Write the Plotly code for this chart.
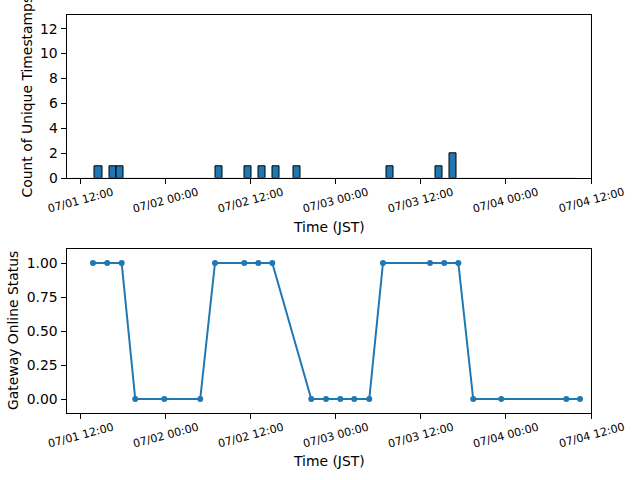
import plotly.graph_objects as go

# ---- data ----
bin_starts = ["2025-07-01 14:01", "2025-07-01 16:02", "2025-07-01 17:05",
              "2025-07-02 06:59", "2025-07-02 11:05", "2025-07-02 13:04",
              "2025-07-02 15:02", "2025-07-02 18:00", "2025-07-03 07:05",
              "2025-07-03 14:02", "2025-07-03 16:00"]
bin_counts = [1, 1, 1, 1, 1, 1, 1, 1, 1, 1, 2]
hist_span = ["2025-07-01 10:55", "2025-07-04 10:00"]

status_times = ["2025-07-01 13:44", "2025-07-01 15:45", "2025-07-01 17:47",
                "2025-07-01 19:42", "2025-07-01 23:48", "2025-07-02 04:52",
                "2025-07-02 06:57", "2025-07-02 11:05", "2025-07-02 13:04",
                "2025-07-02 15:02", "2025-07-02 20:32", "2025-07-02 22:37",
                "2025-07-03 00:38", "2025-07-03 02:36", "2025-07-03 04:43",
                "2025-07-03 06:39", "2025-07-03 13:17", "2025-07-03 15:18",
                "2025-07-03 17:17", "2025-07-03 19:23", "2025-07-03 23:20",
                "2025-07-04 08:31", "2025-07-04 10:27"]
status_values = [1, 1, 1, 0, 0, 0, 1, 1, 1, 1, 0, 0, 0, 0, 0, 1, 1, 1, 1, 0, 0, 0, 0]

tick_times = ["2025-07-01 12:00", "2025-07-02 00:00", "2025-07-02 12:00",
              "2025-07-03 00:00", "2025-07-03 12:00", "2025-07-04 00:00",
              "2025-07-04 12:00"]
tick_labels = ["07/01 12:00", "07/02 00:00", "07/02 12:00", "07/03 00:00",
               "07/03 12:00", "07/04 00:00", "07/04 12:00"]
x_range = ["2025-07-01 10:00", "2025-07-04 12:00"]

BLUE = "#1f77b4"
FONT = "DejaVu Sans"
W, H = 640, 480

def py(p):
    return (H - p) / H

fig = go.Figure()

# baseline of empty histogram bins
fig.add_trace(go.Scatter(x=hist_span, y=[0, 0], mode="lines",
                         line=dict(color="#b0b0b0", width=1.2),
                         xaxis="x", yaxis="y", showlegend=False, hoverinfo="skip"))
fig.add_trace(go.Bar(x=bin_starts, y=bin_counts, width=[3600000] * len(bin_starts),
                     offset=0, marker=dict(color=BLUE, line=dict(color="black", width=1)),
                     xaxis="x", yaxis="y", showlegend=False))
fig.add_trace(go.Scatter(x=status_times, y=status_values, mode="lines+markers",
                         line=dict(color=BLUE, width=2),
                         marker=dict(color=BLUE, size=6),
                         xaxis="x2", yaxis="y2", showlegend=False))

xdom = [66.5 / W, 591 / W]
common_x = dict(range=x_range, type="date", showgrid=False, zeroline=False,
                showline=True, mirror=True, linecolor="black", linewidth=1,
                ticks="outside", ticklen=5, tickwidth=1, tickcolor="black",
                tickvals=tick_times, showticklabels=False, domain=xdom,
                automargin=False)
common_y = dict(showgrid=False, zeroline=False, showline=True, mirror=True,
                linecolor="black", linewidth=1, ticks="outside", ticklen=5,
                tickwidth=1, tickcolor="black", automargin=False,
                tickfont=dict(family=FONT, size=13.9, color="black"))

annotations = []
for t, lab in zip(tick_times, tick_labels):
    annotations.append(dict(x=t, xref="x", y=py(201), yref="paper", text=lab,
                            showarrow=False, textangle=-15,
                            font=dict(family=FONT, size=11.1, color="black"),
                            xanchor="center", yanchor="middle"))
    annotations.append(dict(x=t, xref="x2", y=py(435), yref="paper", text=lab,
                            showarrow=False, textangle=-15,
                            font=dict(family=FONT, size=11.1, color="black"),
                            xanchor="center", yanchor="middle"))
tfont = dict(family=FONT, size=13.9, color="black")
annotations += [
    dict(x=328.5 / W, xref="paper", y=py(227), yref="paper", text="Time (JST)",
         showarrow=False, font=tfont, xanchor="center", yanchor="middle"),
    dict(x=328.5 / W, xref="paper", y=py(461), yref="paper", text="Time (JST)",
         showarrow=False, font=tfont, xanchor="center", yanchor="middle"),
    dict(x=26 / W, xref="paper", y=py(96.5), yref="paper",
         text="Count of Unique Timestamps", textangle=-90,
         showarrow=False, font=tfont, xanchor="center", yanchor="middle"),
    dict(x=13 / W, xref="paper", y=py(331), yref="paper",
         text="Gateway Online Status", textangle=-90,
         showarrow=False, font=tfont, xanchor="center", yanchor="middle"),
]

fig.update_layout(
    width=W, height=H, margin=dict(l=0, r=0, t=0, b=0, pad=0, autoexpand=False),
    paper_bgcolor="white", plot_bgcolor="white",
    font=dict(family=FONT, color="black"),
    xaxis=dict(**common_x, anchor="y"),
    xaxis2=dict(**common_x, anchor="y2"),
    yaxis=dict(**common_y, range=[0, 13.07], tickvals=list(range(0, 13, 2)),
               domain=[py(178.3), py(15.3)], anchor="x"),
    yaxis2=dict(**common_y, range=[-0.1, 1.1], tickvals=[0, 0.25, 0.5, 0.75, 1.0],
                tickformat=".2f", domain=[py(412.6), py(249.4)], anchor="x2"),
    annotations=annotations,
    bargap=0,
)

fig.write_html("out.html")
